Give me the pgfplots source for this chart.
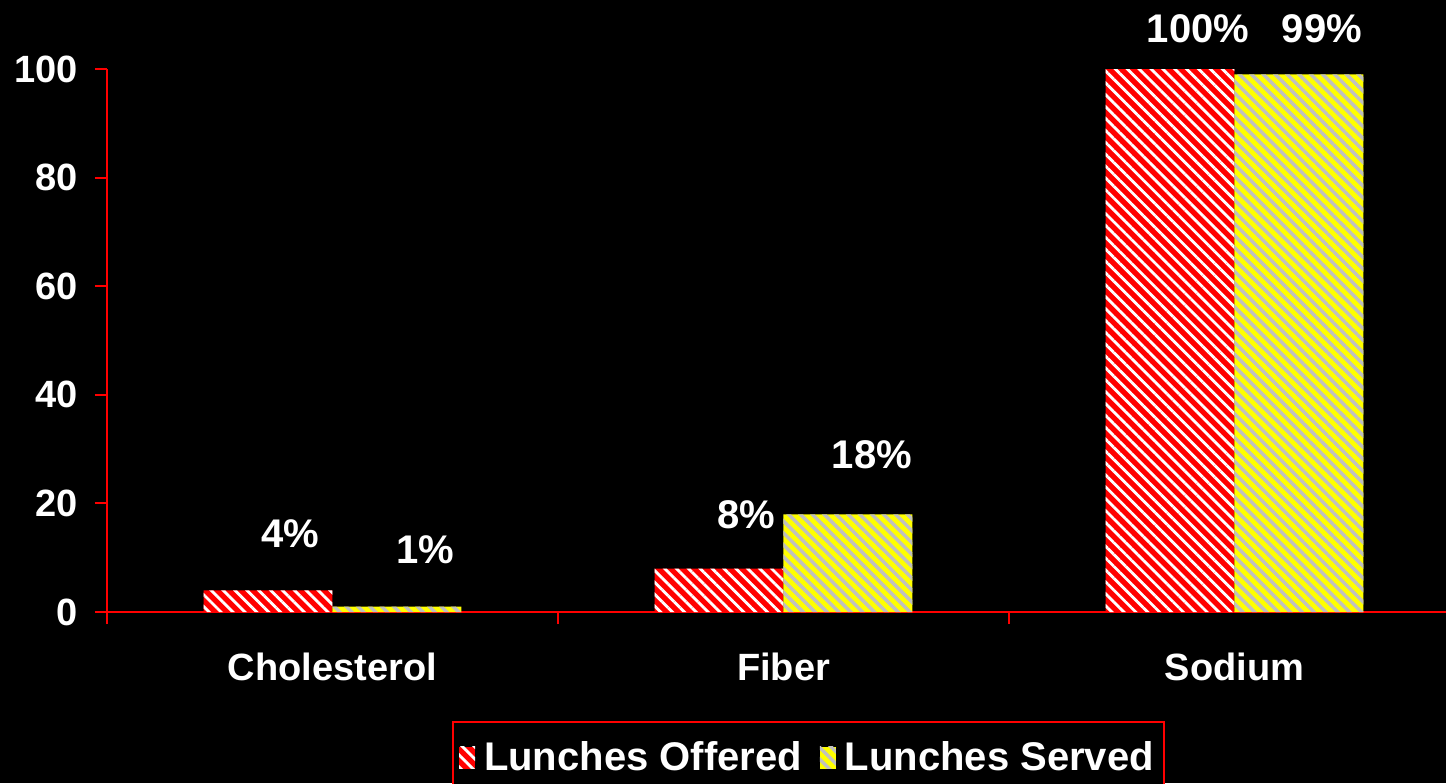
\documentclass[border=0pt]{standalone}
\usepackage{pgfplots}
\pgfplotsset{compat=1.18}
\usepackage{fontspec}
\setmainfont{Liberation Sans}
\usetikzlibrary{patterns.meta,calc,backgrounds}

\definecolor{barred}{RGB}{255,0,0}
\definecolor{baryellow}{RGB}{255,255,0}
\definecolor{stripegray}{RGB}{192,192,192}

\newcommand{\lbl}{\fontsize{19}{22}\selectfont\bfseries}
\newcommand{\lgd}{\fontsize{20}{24}\selectfont\bfseries}

\begin{document}
\begin{tikzpicture}
\begin{axis}[
  name=ax,
  scale only axis,
  width=669.5pt, height=271.5pt,
  xmin=0, xmax=2.969, ymin=0, ymax=100,
  ybar=0pt, bar width=0.286,
  axis x line*=bottom, axis y line*=left,
  axis line style={barred, line width=1pt, -},
  every tick/.style={barred, line width=1pt},
  tick align=outside,
  major tick length=6pt,
  xtick={0,1,2}, xticklabels={},
  extra x ticks={0.5,1.5,2.5},
  extra x tick labels={Cholesterol,Fiber,Sodium},
  extra x tick style={major tick length=0pt, tick label style={yshift=-17pt}},
  ytick={0,20,...,100},
  /pgf/number format/assume math mode=true,
  tick label style={font=\lbl, text=white},
  yticklabel style={xshift=-5pt},
  clip=false,
  legend columns=2,
  legend style={at={(axis description cs:0.2577,-0.2007)}, anchor=north west,
    draw=barred, line width=1pt, fill=black, text=white, font=\lgd,
    inner xsep=3pt, inner ysep=8pt,
    /tikz/every odd column/.append style={column sep=2.5pt},
    /tikz/every even column/.append style={column sep=7pt}},
  legend image code/.code={\path[#1] (0pt,-5.5pt) rectangle (8pt,5.5pt);},
]
\addplot[fill=barred, draw=none,
  postaction={pattern={Lines[angle=-45,distance=4.2pt,line width=1.4pt]}, pattern color=white}]
  coordinates {(0.5,4) (1.5,8) (2.5,100)};
\addlegendentry{Lunches Offered}
\addplot[fill=baryellow, draw=none,
  postaction={pattern={Lines[angle=-45,distance=4.2pt,line width=1.7pt]}, pattern color=stripegray}]
  coordinates {(0.5,1) (1.5,18) (2.5,99)};
\addlegendentry{Lunches Served}

\node[text=white, font=\lgd] at (axis cs:0.406,14.5) {4\%};
\node[text=white, font=\lgd] at (axis cs:0.705,11.4) {1\%};
\node[text=white, font=\lgd] at (axis cs:1.417,17.9) {8\%};
\node[text=white, font=\lgd] at (axis cs:1.696,28.9) {18\%};
\node[text=white, font=\lgd] at (axis cs:2.419,107.5) {100\%};
\node[text=white, font=\lgd] at (axis cs:2.694,107.5) {99\%};
\end{axis}
\pgfresetboundingbox
\begin{scope}[on background layer]
\fill[black] ($(ax.south west)+(-53.5pt,-85.5pt)$) rectangle ($(ax.south west)+(669.5pt,306pt)$);
\end{scope}
\path[use as bounding box] ($(ax.south west)+(-53.5pt,-85.5pt)$) rectangle ($(ax.south west)+(669.5pt,306pt)$);
\end{tikzpicture}
\end{document}
